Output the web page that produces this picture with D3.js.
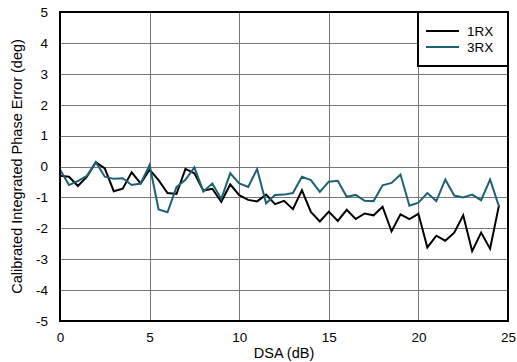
<!DOCTYPE html>
<html><head><meta charset="utf-8">
<script src="https://cdn.jsdelivr.net/npm/d3@7"></script>
<style>body{margin:0;background:#fff;}svg{display:block;font-family:"Liberation Sans",Arial,sans-serif;}</style>
</head><body>
<script>
const dsa = d3.range(0, 25, 0.5);
const rx1 = [-0.3,-0.33,-0.63,-0.33,0.14,-0.06,-0.8,-0.72,-0.19,-0.55,
  -0.1,-0.44,-0.86,-0.89,-0.08,-0.22,-0.78,-0.72,-1.14,-0.58,
  -0.93,-1.08,-1.13,-0.91,-1.22,-1.11,-1.38,-0.77,-1.47,-1.78,
  -1.46,-1.76,-1.4,-1.7,-1.52,-1.58,-1.3,-2.1,-1.55,-1.7,
  -1.53,-2.62,-2.24,-2.4,-2.14,-1.58,-2.74,-2.14,-2.66,-1.25];
const rx3 = [-0.1,-0.6,-0.47,-0.3,0.14,-0.33,-0.4,-0.38,-0.6,-0.55,
  0.05,-1.39,-1.48,-0.67,-0.43,-0.03,-0.81,-0.55,-1.05,-0.22,
  -0.55,-0.66,-0.08,-1.19,-0.92,-0.91,-0.86,-0.33,-0.44,-0.82,
  -0.49,-0.46,-0.98,-0.92,-1.11,-1.12,-0.61,-0.53,-0.26,-1.27,
  -1.17,-0.86,-1.12,-0.42,-0.94,-1.0,-0.91,-1.09,-0.42,-1.3];
const xTicks = [0,5,10,15,20,25];
const yTicks = [-5,-4,-3,-2,-1,0,1,2,3,4,5];
const seriesNames = ["1RX","3RX"];
const colors = ["#000000","#1d6172"];

const W=517,H=362;
const m={l:60,r:9,t:12,b:41};
const svg=d3.select("body").append("svg").attr("width",W).attr("height",H);
const x=d3.scaleLinear().domain([0,25]).range([m.l,W-m.r]);
const y=d3.scaleLinear().domain([-5,5]).range([H-m.b,m.t]);

// grid
svg.append("g").selectAll("line").data(yTicks.slice(1,-1)).join("line")
  .attr("x1",x(0)).attr("x2",x(25)).attr("y1",d=>Math.round(y(d))+0.5).attr("y2",d=>Math.round(y(d))+0.5)
  .attr("stroke","#777").attr("stroke-width",1);
svg.append("g").selectAll("line").data(xTicks.slice(1,-1)).join("line")
  .attr("y1",y(-5)).attr("y2",y(5)).attr("x1",d=>Math.round(x(d))+0.5).attr("x2",d=>Math.round(x(d))+0.5)
  .attr("stroke","#777").attr("stroke-width",1);

// axes labels
const fmt=d=>String(d);
const xa=d3.axisBottom(x).tickValues(xTicks).tickFormat(fmt).tickSize(0).tickPadding(11);
const gx=svg.append("g").attr("transform",`translate(0,${y(-5)})`).call(xa);
gx.select(".domain").remove();
gx.selectAll("text").attr("font-size",13.5).attr("fill","#000").attr("font-family","Liberation Sans, Arial, sans-serif");
const ya=d3.axisLeft(y).tickValues(yTicks).tickFormat(fmt).tickSize(0).tickPadding(12);
const gy=svg.append("g").attr("transform",`translate(${x(0)},0)`).call(ya);
gy.select(".domain").remove();
gy.selectAll("text").attr("font-size",13.5).attr("fill","#000").attr("font-family","Liberation Sans, Arial, sans-serif");

// lines
const data=[rx1,rx3];
const line=d3.line().x((d,i)=>x(dsa[i])).y(d=>y(d));
data.forEach((s,k)=>{
  svg.append("path").datum(s).attr("d",line).attr("fill","none")
    .attr("stroke",colors[k]).attr("stroke-width",2).attr("stroke-linejoin","miter");
});

// frame
svg.append("rect").attr("x",x(0)).attr("y",y(5)).attr("width",x(25)-x(0)).attr("height",y(-5)-y(5))
  .attr("fill","none").attr("stroke","#000").attr("stroke-width",2);

// legend
const lg=svg.append("g");
lg.append("rect").attr("x",418).attr("y",y(5)).attr("width",x(25)-418).attr("height",54)
  .attr("fill","#fff").attr("stroke","#000").attr("stroke-width",2);
seriesNames.forEach((n,k)=>{
  const yy=31+k*16;
  lg.append("line").attr("x1",426).attr("x2",459).attr("y1",yy).attr("y2",yy).attr("stroke",colors[k]).attr("stroke-width",2);
  lg.append("text").attr("x",467).attr("y",yy+5).attr("font-size",13.5).text(n);
});

// titles
svg.append("text").attr("x",(x(0)+x(25))/2).attr("y",358).attr("text-anchor","middle").attr("font-size",14.5).text("DSA (dB)");
svg.append("text").attr("transform",`translate(22,${(y(5)+y(-5))/2}) rotate(-90)`).attr("text-anchor","middle").attr("font-size",14.5)
  .text("Calibrated Integrated Phase Error (deg)");
</script>
</body></html>
